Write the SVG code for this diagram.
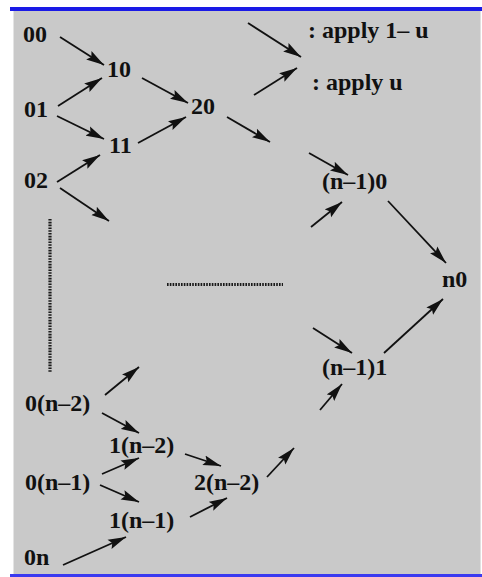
<svg xmlns="http://www.w3.org/2000/svg" width="482" height="577" viewBox="0 0 482 577">
<style>
text{font-family:"Liberation Serif","Times New Roman",serif;font-weight:bold;font-size:24px;fill:#111}
.c line{stroke:#111;stroke-width:1.8;marker-end:url(#ah)}
.dot{stroke:#1a1a1a;stroke-width:3.2;stroke-dasharray:1.6 1.2}
</style>
<defs>
<marker id="ah" markerUnits="userSpaceOnUse" viewBox="0 0 18 11" refX="18" refY="5.5" markerWidth="18" markerHeight="11" orient="auto">
<path d="M0,0.5 L18,5.5 L0,10.5 L3,5.5 z" fill="#111"/>
</marker>
</defs>
<rect x="0" y="0" width="482" height="577" fill="#fff"/>
<rect x="13" y="10" width="468" height="565" fill="#c9c9c9"/>
<line x1="13.5" y1="11" x2="13.5" y2="574" stroke="#e4e4e4" stroke-width="1"/>
<line x1="480.5" y1="11" x2="480.5" y2="574" stroke="#e0e0e0" stroke-width="1"/>
<rect x="10" y="7" width="472" height="4" fill="#1a1ae6"/>
<rect x="10" y="574" width="472" height="3" fill="#3a3af0"/>

<g id="n00"><text x="23" y="42">00</text></g>
<g id="n10"><text x="107" y="77">10</text></g>
<g id="n01"><text x="24" y="117">01</text></g>
<g id="n20"><text x="191" y="114">20</text></g>
<g id="n11"><text x="109" y="153">11</text></g>
<g id="n02"><text x="24" y="188">02</text></g>
<g id="nn10"><text x="322" y="189">(n–1)0</text></g>
<g id="nn0"><text x="442" y="287">n0</text></g>
<g id="nn11"><text x="322" y="375">(n–1)1</text></g>
<g id="n0n2"><text x="25" y="411">0(n–2)</text></g>
<g id="n1n2"><text x="109" y="453">1(n–2)</text></g>
<g id="n0n1"><text x="25" y="490">0(n–1)</text></g>
<g id="n2n2"><text x="194" y="490">2(n–2)</text></g>
<g id="n1n1"><text x="109" y="528">1(n–1)</text></g>
<g id="n0n"><text x="24" y="565">0n</text></g>
<g id="legend">
<text x="308" y="38">: apply 1– u</text>
<text x="312" y="90">: apply u</text>
</g>
<g id="ellipsis">
<line class="dot" x1="50" y1="219" x2="50" y2="372"/>
<line class="dot" x1="167" y1="284.5" x2="283" y2="284.5"/>
</g>

<g class="c" id="connectors">
<line x1="248" y1="23" x2="301" y2="57"/>
<line x1="254" y1="95" x2="297" y2="68"/>
<line x1="60" y1="37" x2="104" y2="65"/>
<line x1="58" y1="106" x2="102" y2="78"/>
<line x1="57" y1="116" x2="104" y2="139"/>
<line x1="142" y1="78" x2="188" y2="103"/>
<line x1="138" y1="143" x2="186" y2="117"/>
<line x1="57" y1="182" x2="100" y2="155"/>
<line x1="60" y1="188" x2="109" y2="221"/>
<line x1="227" y1="117" x2="270" y2="142"/>
<line x1="309" y1="153" x2="348" y2="175"/>
<line x1="311" y1="227" x2="342" y2="202"/>
<line x1="388" y1="201" x2="446" y2="263"/>
<line x1="384" y1="353" x2="443" y2="299"/>
<line x1="313" y1="328" x2="352" y2="353"/>
<line x1="320" y1="410" x2="342" y2="384"/>
<line x1="105" y1="395" x2="139" y2="367"/>
<line x1="102" y1="413" x2="139" y2="433"/>
<line x1="102" y1="474" x2="139" y2="458"/>
<line x1="100" y1="485" x2="139" y2="502"/>
<line x1="185" y1="454" x2="221" y2="466"/>
<line x1="190" y1="517" x2="227" y2="498"/>
<line x1="63" y1="565" x2="126" y2="537"/>
<line x1="267" y1="477" x2="294" y2="448"/>
</g>
</svg>
